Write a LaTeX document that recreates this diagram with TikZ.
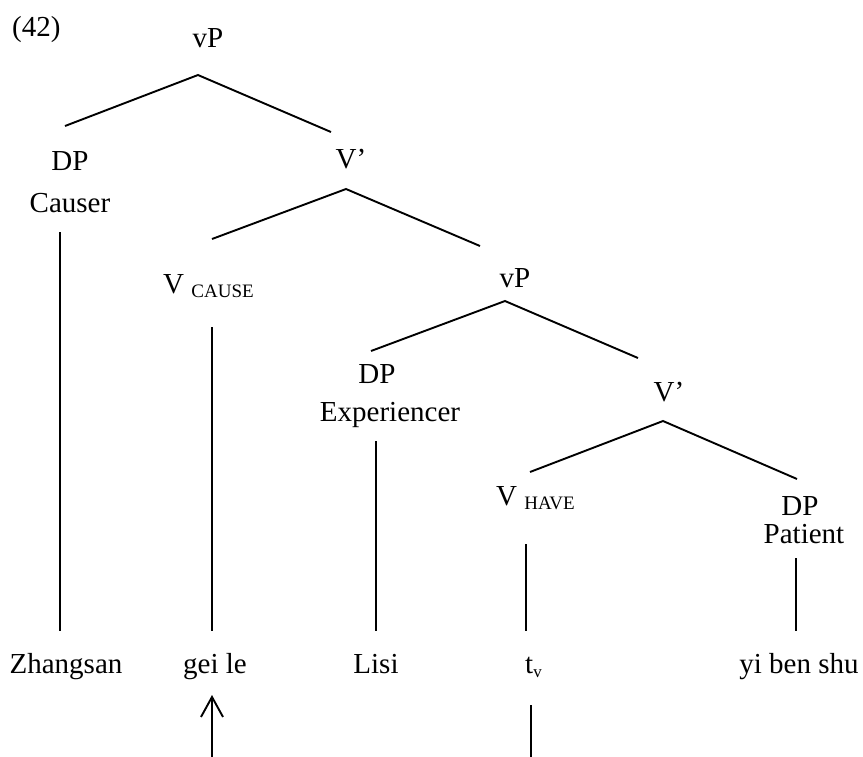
\documentclass[tikz,border=0pt]{standalone}
\usepackage{fontspec}
\setmainfont{Liberation Serif}
\usetikzlibrary{arrows.meta}
\newcommand{\lowsub}[1]{\raisebox{-4pt}{\fontsize{19}{22}\selectfont #1}}
\begin{document}
\begin{tikzpicture}[x=1pt,y=-1pt,
  lbl/.style={anchor=base,inner sep=0pt,font=\fontsize{29}{34}\selectfont},
  lbll/.style={lbl,anchor=base west},
  branch/.style={line width=1.9pt},
  upmove/.style={line width=1.9pt,-{Straight Barb[length=20pt,width=22pt,line width=1.9pt]}}]
\useasboundingbox (0,0) rectangle (863,756);

% labels
\node[lbll] (ex) at (12,36) {(42)};
\node[lbl] (vp1) at (208,47) {vP};
\node[lbl] (dp1) at (70,170) {DP};
\node[lbl] (causer) at (70,212) {Causer};
\node[lbl] (vbar1) at (351,168) {V’};
\node[lbll] (vcause) at (163,293) {V \lowsub{CAUSE}};
\node[lbl] (vp2) at (515,287) {vP};
\node[lbl] (dp2) at (377,383) {DP};
\node[lbl] (exper) at (390,421) {Experiencer};
\node[lbl] (vbar2) at (669,401) {V’};
\node[lbll] (vhave) at (496,505) {V \lowsub{HAVE}};
\node[lbl] (dp3) at (800,515) {DP};
\node[lbl] (patient) at (804,543) {Patient};

\node[lbl] (zs) at (66,673) {Zhangsan};
\node[lbl] (geile) at (215,673) {gei le};
\node[lbl] (lisi) at (376,673) {Lisi};
\node[lbll] (tv) at (525,673) {t\raisebox{-4pt}{\fontsize{17}{20}\selectfont v}};
\node[lbl] (ybs) at (799,673) {yi ben shu};

% branch points
\coordinate (a1) at (198,75);  \coordinate (a1l) at (65,126);  \coordinate (a1r) at (331,132);
\coordinate (a2) at (346,189); \coordinate (a2l) at (212,239); \coordinate (a2r) at (480,246);
\coordinate (a3) at (505,301); \coordinate (a3l) at (371,351); \coordinate (a3r) at (638,358);
\coordinate (a4) at (663,421); \coordinate (a4l) at (530,472); \coordinate (a4r) at (797,479);

\draw[branch] (a1l) -- (a1) -- (a1r);
\draw[branch] (a2l) -- (a2) -- (a2r);
\draw[branch] (a3l) -- (a3) -- (a3r);
\draw[branch] (a4l) -- (a4) -- (a4r);

% vertical projections
\coordinate (c1t) at (60,232);  \coordinate (c1b) at (60,631);
\coordinate (c2t) at (212,327); \coordinate (c2b) at (212,631);
\coordinate (c3t) at (376,441); \coordinate (c3b) at (376,631);
\coordinate (c4t) at (526,544); \coordinate (c4b) at (526,631);
\coordinate (c5t) at (796,558); \coordinate (c5b) at (796,631);
\draw[branch] (c1t) -- (c1b);
\draw[branch] (c2t) -- (c2b);
\draw[branch] (c3t) -- (c3b);
\draw[branch] (c4t) -- (c4b);
\draw[branch] (c5t) -- (c5b);

% head movement
\coordinate (mvfrom) at (212,758);
\coordinate (mvto) at (212,695);
\draw[upmove] (mvfrom) -- (mvto);
\coordinate (trt) at (531,705);
\coordinate (trb) at (531,758);
\draw[branch] (trt) -- (trb);
\end{tikzpicture}
\end{document}
